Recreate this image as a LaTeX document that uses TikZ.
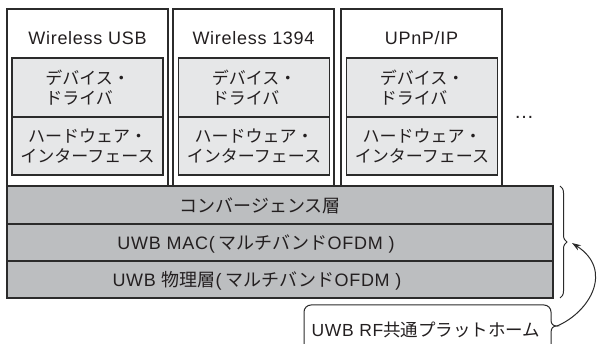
\documentclass[tikz,border=0pt]{standalone}
\usepackage{fontspec}
\setmainfont[LetterSpace=4]{Liberation Sans}
\newfontfamily\plainsans{Liberation Sans}
\newfontfamily\cjk{Noto Sans CJK JP}
\usetikzlibrary{decorations.pathreplacing,arrows.meta}
\definecolor{edge}{HTML}{2B2B2B}
\definecolor{light}{HTML}{E6E7E8}
\definecolor{layer}{HTML}{BCBEC0}
\definecolor{ink}{HTML}{231F20}
\tikzset{
  colbox/.style={draw=edge,line width=1.2pt,fill=white,minimum width=161pt,minimum height=177pt,inner sep=0pt},
  inbox/.style={draw=edge,line width=1.6pt,fill=light,minimum width=151pt,inner sep=0pt,text=ink,font=\fontsize{17}{19.5}\selectfont\cjk,align=center},
  lyr/.style={draw=edge,line width=1.8pt,fill=layer,minimum width=546pt,inner sep=0pt,text=ink},
  title/.style={text=ink,font=\fontsize{18}{20}\selectfont,inner sep=0pt},
  lbl/.style={text=ink,font=\fontsize{18}{20}\selectfont,inner sep=0pt},
}
\newcommand{\jp}[1]{{\cjk #1}}
\begin{document}
\begin{tikzpicture}[x=1pt,y=-1pt]
\useasboundingbox (0,0) rectangle (600,344);
% columns
\node[colbox] (c1) at (87.5,97.5) {};
\node[colbox] (c2) at (253.5,97.5) {};
\node[colbox] (c3) at (421.5,97.5) {};
\node[title] (t1) at (87.5,38) {Wireless USB};
\node[title] (t2) at (253.5,38) {Wireless 1394};
\node[title] (t3) at (421.5,38) {UPnP/IP};
% inner boxes
\foreach \n/\x in {1/87.5,2/254,3/422}{
  \node[inbox,minimum height=59pt,align=left] (d\n) at (\x,87.5) {デバイス・\\ドライバ};
  \node[inbox,minimum height=58pt] (h\n) at (\x,146) {ハードウェア・\\インターフェース};
}
\node[text=ink,font=\fontsize{20}{20}\selectfont\plainsans,inner sep=0pt] (dots) at (524,117) {\char"2026};
% layers
\node[lyr,minimum height=38pt] (l1) at (280,205) {};
\node[lyr,minimum height=37pt] (l2) at (280,242.5) {};
\node[lyr,minimum height=37pt] (l3) at (280,279.5) {};
\node[lbl] (l1t) at (260,206) {\jp{コンバージェンス層}};
\node[lbl] (l2t) at (256,244) {UWB MAC(\kern4pt\jp{マルチバンド}OFDM )};
\node[lbl] (l3t) at (257,281) {UWB \jp{物理層}(\kern4pt\jp{マルチバンド}OFDM )};
% brace
\coordinate (bt) at (560,186);
\coordinate (bb) at (560,298);
\draw[edge,line width=1pt,decorate,decoration={brace,amplitude=7pt}] (bt) -- (bb);
\coordinate (btip) at (572,243);
% label
\node[lbl,font=\fontsize{17.5}{20}\selectfont] (rf) at (426,330) {UWB RF\jp{共通プラットホーム}};
\coordinate (fA) at (304,344);
\coordinate (fB) at (551,320);
\coordinate (ftip) at (557,326);
\draw[edge,line width=1pt,rounded corners=7pt] (fA) -- (304,305) -- (551,305) -- (fB);
\draw[edge,line width=1pt] (fB) .. controls (551,324) and (553,326) .. (ftip)
  .. controls (553,326) and (551,328) .. (551,333) -- (551,344);
% arrow
\draw[edge,line width=1pt,-{Stealth[length=9pt,width=6pt]}] (ftip) .. controls (590,312) and (614,270) .. (btip);
\end{tikzpicture}
\end{document}
